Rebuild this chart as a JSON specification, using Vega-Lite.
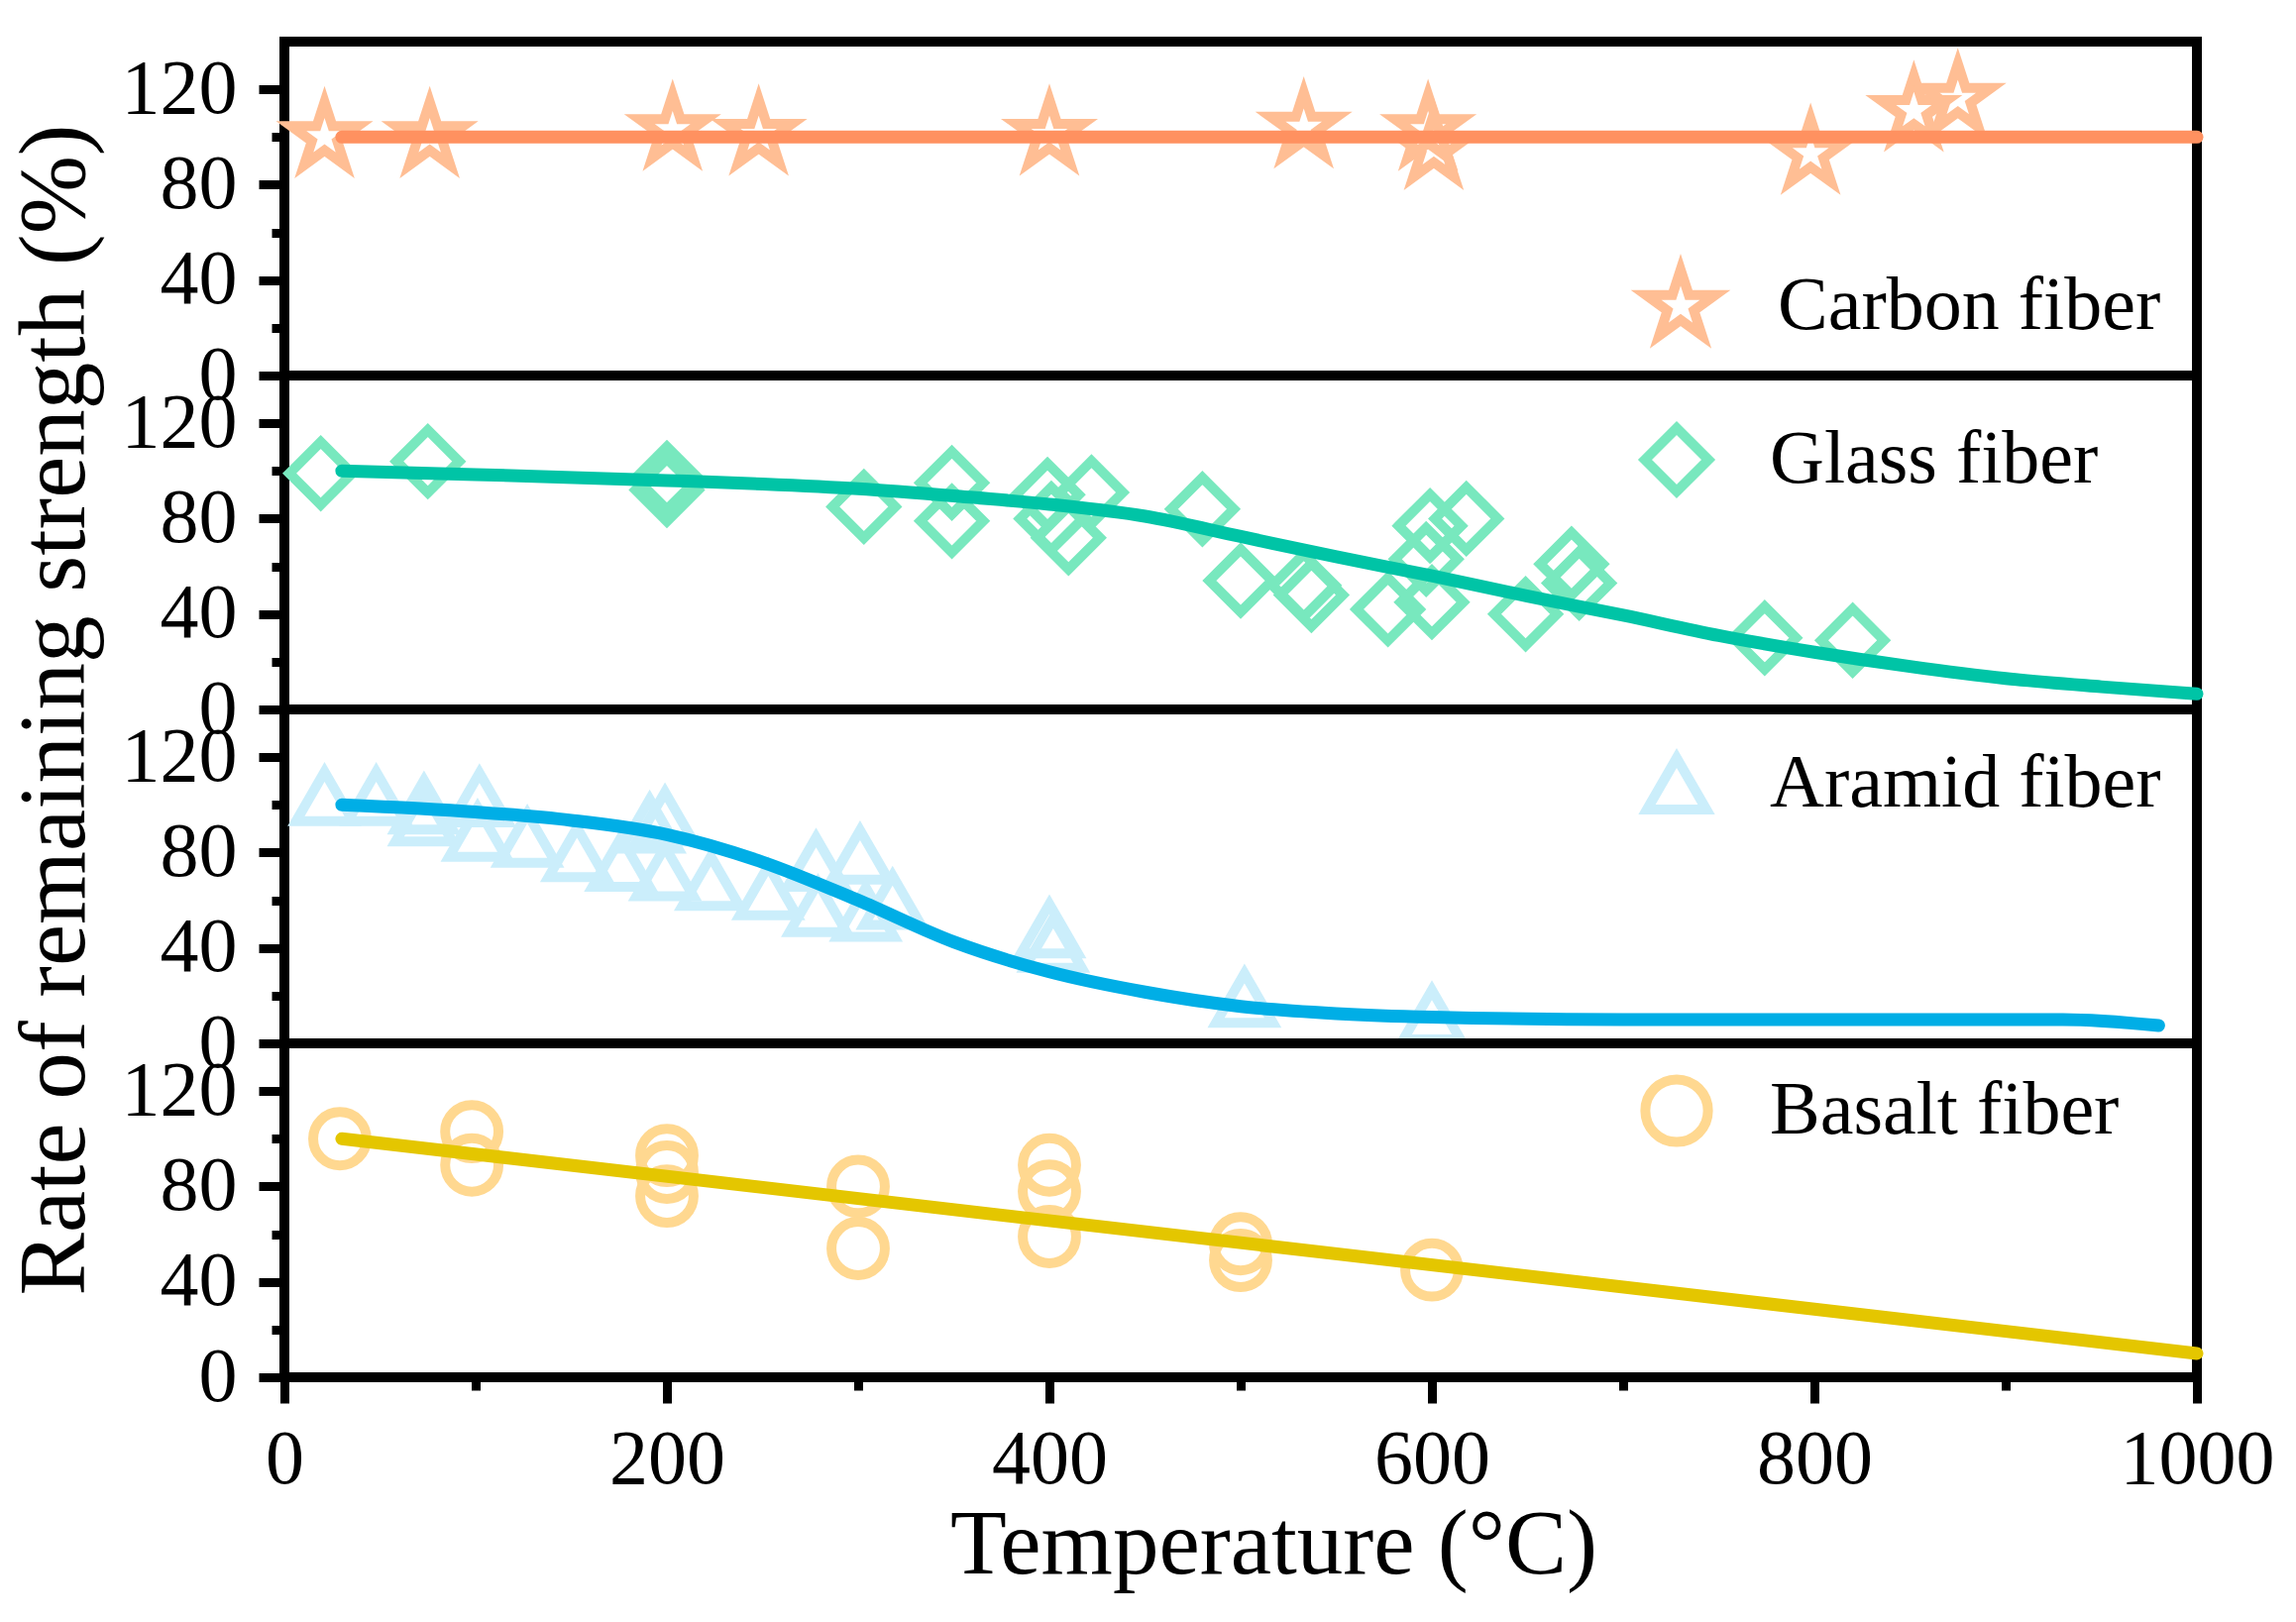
{
  "$schema": "https://vega.github.io/schema/vega-lite/v6.json",
  "description": "Rate of remaining strength of four fibre types versus temperature, stacked panels.",
  "padding": {"left": 3, "top": 37, "right": 5, "bottom": 5},
  "background": "white",
  "bounds": "flush",
  "datasets": {
    "points": [
      {"fiber": "Carbon fiber", "t": 21, "r": 100},
      {"fiber": "Carbon fiber", "t": 76, "r": 100},
      {"fiber": "Carbon fiber", "t": 203, "r": 103},
      {"fiber": "Carbon fiber", "t": 248, "r": 101},
      {"fiber": "Carbon fiber", "t": 400, "r": 101},
      {"fiber": "Carbon fiber", "t": 533, "r": 104},
      {"fiber": "Carbon fiber", "t": 598, "r": 103},
      {"fiber": "Carbon fiber", "t": 601, "r": 95},
      {"fiber": "Carbon fiber", "t": 798, "r": 93},
      {"fiber": "Carbon fiber", "t": 852, "r": 111},
      {"fiber": "Carbon fiber", "t": 875, "r": 116},
      {"fiber": "Glass fiber", "t": 19, "r": 99},
      {"fiber": "Glass fiber", "t": 75, "r": 104},
      {"fiber": "Glass fiber", "t": 200, "r": 97},
      {"fiber": "Glass fiber", "t": 200, "r": 92},
      {"fiber": "Glass fiber", "t": 303, "r": 85},
      {"fiber": "Glass fiber", "t": 349, "r": 95},
      {"fiber": "Glass fiber", "t": 349, "r": 79},
      {"fiber": "Glass fiber", "t": 399, "r": 90},
      {"fiber": "Glass fiber", "t": 401, "r": 80},
      {"fiber": "Glass fiber", "t": 410, "r": 72},
      {"fiber": "Glass fiber", "t": 422, "r": 91},
      {"fiber": "Glass fiber", "t": 480, "r": 84},
      {"fiber": "Glass fiber", "t": 500, "r": 54},
      {"fiber": "Glass fiber", "t": 533, "r": 52},
      {"fiber": "Glass fiber", "t": 537, "r": 48},
      {"fiber": "Glass fiber", "t": 577, "r": 42},
      {"fiber": "Glass fiber", "t": 597, "r": 63},
      {"fiber": "Glass fiber", "t": 599, "r": 77},
      {"fiber": "Glass fiber", "t": 600, "r": 45},
      {"fiber": "Glass fiber", "t": 618, "r": 80},
      {"fiber": "Glass fiber", "t": 649, "r": 40},
      {"fiber": "Glass fiber", "t": 673, "r": 61},
      {"fiber": "Glass fiber", "t": 677, "r": 53},
      {"fiber": "Glass fiber", "t": 774, "r": 30},
      {"fiber": "Glass fiber", "t": 820, "r": 29},
      {"fiber": "Aramid fiber", "t": 21, "r": 103.5},
      {"fiber": "Aramid fiber", "t": 48, "r": 103.5},
      {"fiber": "Aramid fiber", "t": 73, "r": 100},
      {"fiber": "Aramid fiber", "t": 73, "r": 95},
      {"fiber": "Aramid fiber", "t": 102, "r": 103},
      {"fiber": "Aramid fiber", "t": 101, "r": 88.5},
      {"fiber": "Aramid fiber", "t": 127, "r": 86},
      {"fiber": "Aramid fiber", "t": 153, "r": 80},
      {"fiber": "Aramid fiber", "t": 176, "r": 76},
      {"fiber": "Aramid fiber", "t": 191, "r": 92},
      {"fiber": "Aramid fiber", "t": 199, "r": 95},
      {"fiber": "Aramid fiber", "t": 199, "r": 72},
      {"fiber": "Aramid fiber", "t": 223, "r": 68},
      {"fiber": "Aramid fiber", "t": 253, "r": 64},
      {"fiber": "Aramid fiber", "t": 278, "r": 76},
      {"fiber": "Aramid fiber", "t": 301, "r": 79},
      {"fiber": "Aramid fiber", "t": 279, "r": 57},
      {"fiber": "Aramid fiber", "t": 304, "r": 55},
      {"fiber": "Aramid fiber", "t": 318, "r": 60},
      {"fiber": "Aramid fiber", "t": 400, "r": 48},
      {"fiber": "Aramid fiber", "t": 402, "r": 42},
      {"fiber": "Aramid fiber", "t": 502, "r": 19},
      {"fiber": "Aramid fiber", "t": 600, "r": 12},
      {"fiber": "Basalt fiber", "t": 29, "r": 100},
      {"fiber": "Basalt fiber", "t": 98, "r": 103},
      {"fiber": "Basalt fiber", "t": 98, "r": 89},
      {"fiber": "Basalt fiber", "t": 200, "r": 93},
      {"fiber": "Basalt fiber", "t": 200, "r": 86},
      {"fiber": "Basalt fiber", "t": 200, "r": 76},
      {"fiber": "Basalt fiber", "t": 300, "r": 80},
      {"fiber": "Basalt fiber", "t": 300, "r": 54},
      {"fiber": "Basalt fiber", "t": 400, "r": 89},
      {"fiber": "Basalt fiber", "t": 400, "r": 78},
      {"fiber": "Basalt fiber", "t": 400, "r": 59},
      {"fiber": "Basalt fiber", "t": 500, "r": 56},
      {"fiber": "Basalt fiber", "t": 500, "r": 49},
      {"fiber": "Basalt fiber", "t": 600, "r": 45}
    ],
    "lines": [
      {"fiber": "Carbon fiber", "t": 30, "r": 100},
      {"fiber": "Carbon fiber", "t": 1000, "r": 100},
      {"fiber": "Glass fiber", "t": 30, "r": 100},
      {"fiber": "Glass fiber", "t": 100, "r": 98.5},
      {"fiber": "Glass fiber", "t": 200, "r": 96},
      {"fiber": "Glass fiber", "t": 250, "r": 94.5},
      {"fiber": "Glass fiber", "t": 300, "r": 92.5},
      {"fiber": "Glass fiber", "t": 350, "r": 89.5},
      {"fiber": "Glass fiber", "t": 400, "r": 86},
      {"fiber": "Glass fiber", "t": 450, "r": 81},
      {"fiber": "Glass fiber", "t": 500, "r": 72.5},
      {"fiber": "Glass fiber", "t": 550, "r": 64},
      {"fiber": "Glass fiber", "t": 600, "r": 56},
      {"fiber": "Glass fiber", "t": 650, "r": 47.5},
      {"fiber": "Glass fiber", "t": 700, "r": 39.5},
      {"fiber": "Glass fiber", "t": 750, "r": 31},
      {"fiber": "Glass fiber", "t": 800, "r": 24},
      {"fiber": "Glass fiber", "t": 850, "r": 18},
      {"fiber": "Glass fiber", "t": 900, "r": 13},
      {"fiber": "Glass fiber", "t": 950, "r": 9.5},
      {"fiber": "Glass fiber", "t": 1000, "r": 6.5},
      {"fiber": "Aramid fiber", "t": 30, "r": 100},
      {"fiber": "Aramid fiber", "t": 100, "r": 97},
      {"fiber": "Aramid fiber", "t": 150, "r": 93.5},
      {"fiber": "Aramid fiber", "t": 200, "r": 87.5},
      {"fiber": "Aramid fiber", "t": 250, "r": 76},
      {"fiber": "Aramid fiber", "t": 300, "r": 60},
      {"fiber": "Aramid fiber", "t": 350, "r": 42.5},
      {"fiber": "Aramid fiber", "t": 400, "r": 30},
      {"fiber": "Aramid fiber", "t": 450, "r": 21.5},
      {"fiber": "Aramid fiber", "t": 500, "r": 15.5},
      {"fiber": "Aramid fiber", "t": 550, "r": 12.5},
      {"fiber": "Aramid fiber", "t": 600, "r": 11},
      {"fiber": "Aramid fiber", "t": 700, "r": 10},
      {"fiber": "Aramid fiber", "t": 800, "r": 10},
      {"fiber": "Aramid fiber", "t": 930, "r": 10},
      {"fiber": "Aramid fiber", "t": 980, "r": 7.5},
      {"fiber": "Basalt fiber", "t": 30, "r": 100},
      {"fiber": "Basalt fiber", "t": 1000, "r": 10}
    ]
  },
  "spacing": 0,
  "resolve": {
    "scale": {"color": "independent", "shape": "independent", "y": "independent"},
    "legend": {"color": "independent", "shape": "independent"}
  },
  "vconcat": [
    {
      "width": 1930,
      "height": 337,
      "encoding": {
        "x": {"field": "t", "type": "quantitative", "scale": {"domain": [0, 1000], "nice": false}, "axis": null},
        "y": {"field": "r", "type": "quantitative", "scale": {"domain": [0, 140], "nice": false},
          "axis": {"values": [0, 20, 40, 60, 80, 100, 120], "labelExpr": "datum.value % 40 === 0 ? datum.label : ''",
            "tickSize": {"condition": {"test": "datum.value % 40 === 0", "value": 26}, "value": 13},
            "labelPadding": 22, "labelOverlap": false, "title": null}}
      },
      "layer": [
        {
          "data": {"name": "points"},
          "transform": [{"filter": "datum.fiber === 'Carbon fiber'"}],
          "mark": {"type": "point", "filled": false, "strokeWidth": 10, "size": 5000, "opacity": 1},
          "encoding": {
            "color": {"field": "fiber", "type": "nominal", "scale": {"range": ["#FFBE94"]},
              "legend": {"orient": "none", "legendX": 1367, "legendY": 225, "title": null, "symbolSize": 5400}},
            "shape": {"field": "fiber", "type": "nominal",
              "scale": {"range": ["M0,-1L0.2245,-0.309L0.951,-0.309L0.363,0.118L0.588,0.809L0,0.382L-0.588,0.809L-0.363,0.118L-0.951,-0.309L-0.2245,-0.309Z"]},
              "legend": {"orient": "none", "legendX": 1367, "legendY": 225, "title": null, "symbolSize": 5400}}
          }
        },
        {
          "data": {"name": "lines"},
          "transform": [{"filter": "datum.fiber === 'Carbon fiber'"}],
          "mark": {"type": "line", "color": "#FF9160", "strokeWidth": 13, "strokeCap": "round"}
        }
      ]
    },
    {
      "width": 1930,
      "height": 337,
      "encoding": {
        "x": {"field": "t", "type": "quantitative", "scale": {"domain": [0, 1000], "nice": false}, "axis": null},
        "y": {"field": "r", "type": "quantitative", "scale": {"domain": [0, 140], "nice": false},
          "axis": {"values": [0, 20, 40, 60, 80, 100, 120], "labelExpr": "datum.value % 40 === 0 ? datum.label : ''",
            "tickSize": {"condition": {"test": "datum.value % 40 === 0", "value": 26}, "value": 13},
            "labelPadding": 22, "labelOverlap": false,
            "title": "Rate of remaining strength (%)", "titleY": 337, "titlePadding": 18, "titleFontSize": 95}}
      },
      "layer": [
        {
          "data": {"name": "points"},
          "transform": [{"filter": "datum.fiber === 'Glass fiber'"}],
          "mark": {"type": "point", "filled": false, "strokeWidth": 10, "size": 4000, "opacity": 1},
          "encoding": {
            "color": {"field": "fiber", "type": "nominal", "scale": {"range": ["#78E8BE"]},
              "legend": {"orient": "none", "legendX": 1367, "legendY": 47, "title": null, "symbolSize": 4100}},
            "shape": {"field": "fiber", "type": "nominal", "scale": {"range": ["diamond"]},
              "legend": {"orient": "none", "legendX": 1367, "legendY": 47, "title": null, "symbolSize": 4100}}
          }
        },
        {
          "data": {"name": "lines"},
          "transform": [{"filter": "datum.fiber === 'Glass fiber'"}],
          "mark": {"type": "line", "color": "#00C4A6", "strokeWidth": 13, "strokeCap": "round", "interpolate": "monotone"}
        }
      ]
    },
    {
      "width": 1930,
      "height": 337,
      "encoding": {
        "x": {"field": "t", "type": "quantitative", "scale": {"domain": [0, 1000], "nice": false}, "axis": null},
        "y": {"field": "r", "type": "quantitative", "scale": {"domain": [0, 140], "nice": false},
          "axis": {"values": [0, 20, 40, 60, 80, 100, 120], "labelExpr": "datum.value % 40 === 0 ? datum.label : ''",
            "tickSize": {"condition": {"test": "datum.value % 40 === 0", "value": 26}, "value": 13},
            "labelPadding": 22, "labelOverlap": false, "title": null}}
      },
      "layer": [
        {
          "data": {"name": "points"},
          "transform": [{"filter": "datum.fiber === 'Aramid fiber'"}],
          "mark": {"type": "point", "filled": false, "strokeWidth": 10, "size": 3300, "opacity": 1},
          "encoding": {
            "color": {"field": "fiber", "type": "nominal", "scale": {"range": ["#CBEEFB"]},
              "legend": {"orient": "none", "legendX": 1367, "legendY": 37, "title": null, "symbolSize": 3600}},
            "shape": {"field": "fiber", "type": "nominal", "scale": {"range": ["triangle-up"]},
              "legend": {"orient": "none", "legendX": 1367, "legendY": 37, "title": null, "symbolSize": 3600}}
          }
        },
        {
          "data": {"name": "lines"},
          "transform": [{"filter": "datum.fiber === 'Aramid fiber'"}],
          "mark": {"type": "line", "color": "#00AEE6", "strokeWidth": 13, "strokeCap": "round", "interpolate": "monotone"}
        }
      ]
    },
    {
      "width": 1930,
      "height": 337,
      "encoding": {
        "x": {"field": "t", "type": "quantitative", "scale": {"domain": [0, 1000], "nice": false},
          "axis": {"values": [0, 100, 200, 300, 400, 500, 600, 700, 800, 900, 1000],
            "labelExpr": "datum.value % 200 === 0 ? '' + datum.value : ''",
            "tickSize": {"condition": {"test": "datum.value % 200 === 0", "value": 26}, "value": 13},
            "labelPadding": 18, "labelFlush": false, "labelOverlap": false,
            "title": "Temperature (°C)", "titlePadding": 2, "titleX": 998}},
        "y": {"field": "r", "type": "quantitative", "scale": {"domain": [0, 140], "nice": false},
          "axis": {"values": [0, 20, 40, 60, 80, 100, 120], "labelExpr": "datum.value % 40 === 0 ? datum.label : ''",
            "tickSize": {"condition": {"test": "datum.value % 40 === 0", "value": 26}, "value": 13},
            "labelPadding": 22, "labelOverlap": false, "title": null}}
      },
      "layer": [
        {
          "data": {"name": "points"},
          "transform": [{"filter": "datum.fiber === 'Basalt fiber'"}],
          "mark": {"type": "point", "filled": false, "strokeWidth": 10, "size": 2900, "opacity": 1},
          "encoding": {
            "color": {"field": "fiber", "type": "nominal", "scale": {"range": ["#FFD890"]},
              "legend": {"orient": "none", "legendX": 1367, "legendY": 30, "title": null, "symbolSize": 4000}},
            "shape": {"field": "fiber", "type": "nominal", "scale": {"range": ["circle"]},
              "legend": {"orient": "none", "legendX": 1367, "legendY": 30, "title": null, "symbolSize": 4000}}
          }
        },
        {
          "data": {"name": "lines"},
          "transform": [{"filter": "datum.fiber === 'Basalt fiber'"}],
          "mark": {"type": "line", "color": "#E4C600", "strokeWidth": 13, "strokeCap": "round"}
        }
      ]
    }
  ],
  "config": {
    "font": "Liberation Serif",
    "view": {"stroke": "black", "strokeWidth": 10},
    "axis": {
      "domain": false, "grid": false,
      "tickColor": "black", "tickWidth": 9,
      "labelFont": "Liberation Serif", "labelFontSize": 78, "labelColor": "black",
      "titleFont": "Liberation Serif", "titleFontSize": 93, "titleFontWeight": "normal", "titleColor": "black"
    },
    "legend": {
      "labelFont": "Liberation Serif", "labelFontSize": 76, "labelColor": "black", "labelLimit": 0,
      "padding": 0, "symbolStrokeWidth": 10, "labelOffset": 56
    }
  }
}
